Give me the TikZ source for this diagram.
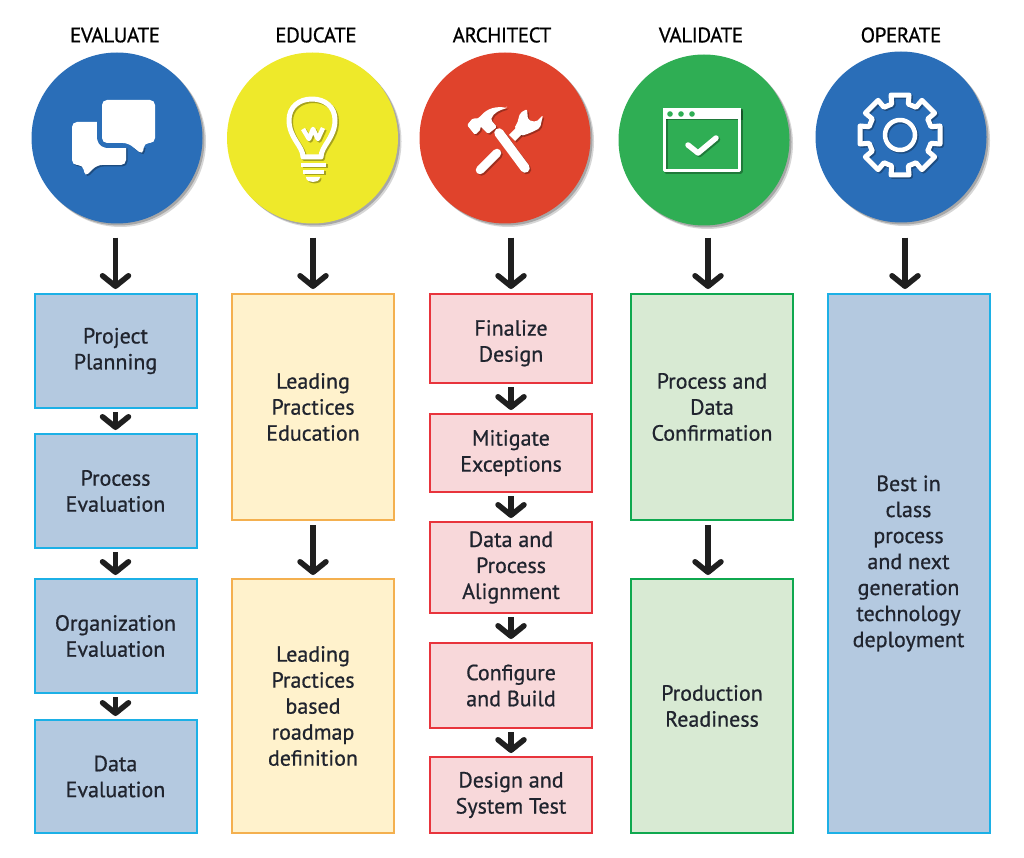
\documentclass[tikz,border=0pt]{standalone}
\usepackage{fontspec}
\setmainfont[FakeBold=0.7]{PT Sans}
\usetikzlibrary{arrows.meta,shadows}

\definecolor{circblue}{HTML}{2A6EB8}
\definecolor{circyellow}{HTML}{EEE92A}
\definecolor{circred}{HTML}{E0432C}
\definecolor{circgreen}{HTML}{2FAE54}
\definecolor{inktext}{HTML}{20242E}
\definecolor{bluefill}{HTML}{B4C9E0}
\definecolor{blueline}{HTML}{1CB0E6}
\definecolor{yellowfill}{HTML}{FFF2CC}
\definecolor{yellowline}{HTML}{F4B04F}
\definecolor{redfill}{HTML}{F8D8DA}
\definecolor{redline}{HTML}{E8343C}
\definecolor{greenfill}{HTML}{D8EAD3}
\definecolor{greenline}{HTML}{0FA84F}

\tikzset{
    phase/.style={font=\fontsize{21}{24}\selectfont\addfontfeatures{LetterSpace=-2}, text=black, inner sep=0pt},
    disc/.style={circle, minimum size=171pt, inner sep=0pt, fill=#1,
        drop shadow={shadow xshift=2pt, shadow yshift=-2pt, opacity=.22, fill=black},
        drop shadow={shadow xshift=3.5pt, shadow yshift=-3.5pt, opacity=.16, fill=black}},
    stepbase/.style={rectangle, line width=2pt, minimum width=162pt, minimum height=#1,
        align=center, inner sep=0pt, text=inktext, font=\fontsize{22}{26}\selectfont},
    bluebox/.style={stepbase=#1, draw=blueline, fill=bluefill},
    yellowbox/.style={stepbase=#1, draw=yellowline, fill=yellowfill},
    redbox/.style={stepbase=#1, draw=redline, fill=redfill},
    greenbox/.style={stepbase=#1, draw=greenline, fill=greenfill},
    flow/.style={-{Straight Barb[length=10.5pt,width=26pt,round]}, line width=5.5pt, color=black!88},
}

\begin{document}
\begin{tikzpicture}[x=1pt, y=-1pt]

    \useasboundingbox (0,0) rectangle (1024,858);

    % phase titles
    \node[phase] (tev) at (115,35) {EVALUATE};
    \node[phase] (ted) at (316,35) {EDUCATE};
    \node[phase] (tar) at (502,35) {ARCHITECT};
    \node[phase] (tva) at (701,35) {VALIDATE};
    \node[phase] (top) at (901,35) {OPERATE};

    % circles
    \node[disc=circblue] (cev) at (117,138) {};
    \node[disc=circyellow] (ced) at (312.5,138) {};
    \node[disc=circred] (car) at (505,138) {};
    \node[disc=circgreen] (cva) at (704,140) {};
    \node[disc=circblue] (cop) at (901,137) {};

    % icons, shadow pass first and white pass second
    \foreach \sh/\ic/\op in {1.5/black/.3, 0/white/1} {
    \begin{scope}[shift={(\sh,\sh)}, opacity=\op, color=\ic, line join=round]
        % chat bubbles
        \fill[rounded corners=5pt] (72,122) -- (126,122) -- (126,165) -- (97,165) -- (85,177) -- (83,165) -- (72,165) -- cycle;
        \draw[circblue, line width=10pt, rounded corners=5pt] (102,100) rectangle (155,143);
        \fill[rounded corners=5pt] (102,100) -- (155,100) -- (155,143) -- (144,143) -- (143,155) -- (128,143) -- (102,143) -- cycle;

        % bulb
        \draw[line width=5pt] (303,157) .. controls (303,146) and (289,138) .. (289,120) .. controls (289,107) and (299,99) .. (312,99) .. controls (325,99) and (335,107) .. (335,120) .. controls (335,138) and (321,146) .. (321,157) -- cycle;
        \draw[line width=4.5pt] (303,129) -- (309,139) -- (313,129) -- (318,139) -- (323,128);
        \draw[line width=4pt] (301,165) -- (326,165);
        \draw[line width=4pt] (303,172) -- (324,172);
        \fill (306,177) -- (320,177) .. controls (320,181) and (316,182) .. (313,182) .. controls (310,182) and (306,181) .. (306,177) -- cycle;

        % wrench
        \draw[line width=8.5pt, line cap=round] (480,170) -- (497,153);
        \draw[line width=8.5pt] (512,138) -- (522,128);
        \fill[rounded corners=2pt] (527,109) -- (520,113) -- (517,124) -- (514,128) -- (521,136) -- (530,133) -- (540,128) -- (543,115) -- (536,122) -- (528,120) -- cycle;

        % hammer
        \draw[line width=9.5pt, line cap=round] (499,133) -- (525,168);
        \fill[rounded corners=1.5pt] (507,108) .. controls (497,106) and (487,108) .. (480,117) -- (476,119) -- (473,118) -- (467,125) -- (475,135) -- (481,129) -- (480,126) -- (488,134) -- (497,127) -- (491,120) .. controls (493,113) and (500,110) .. (507,108) -- cycle;

        % browser window
        \draw[line width=3.5pt] (664.5,109.5) rectangle (739.5,170.5);
        \fill (663,108) rectangle (741,119);
        \draw[line width=5.5pt, line cap=round] (688,145) -- (698,153) -- (716,138);

        % gear
        \begin{scope}[shift={(900,135)}]
            \draw[line width=5pt] (-15:32) \foreach \a in {0,45,...,315} {-- ({\a-15}:32) -- ({\a-12.7}:41) -- ({\a+12.7}:41) -- ({\a+15}:32)} -- cycle;
            \draw[line width=4.5pt] (0,0) circle[radius=15];
        \end{scope}
    \end{scope}
    }
    % window dots
    \fill[circgreen] (670,114) circle[radius=2.8];
    \fill[circgreen] (681,114) circle[radius=2.8];
    \fill[circgreen] (692,114) circle[radius=2.8];

    % evaluate boxes
    \node[bluebox=114pt] (ev1) at (115.5,351) {Project\\Planning};
    \node[bluebox=114pt] (ev2) at (115.5,491) {Process\\Evaluation};
    \node[bluebox=114pt] (ev3) at (115.5,636) {Organization\\Evaluation};
    \node[bluebox=113pt] (ev4) at (115.5,776.5) {Data\\Evaluation};

    % educate boxes
    \node[yellowbox=226pt] (ed1) at (313,407) {Leading\\Practices\\Education};
    \node[yellowbox=254pt] (ed2) at (313,706) {Leading\\Practices\\based\\roadmap\\definition};

    % architect boxes
    \node[redbox=89pt] (ar1) at (511,338.5) {\rule{0pt}{25pt}Finalize\\Design};
    \node[redbox=78pt] (ar2) at (511,453) {Mitigate\\Exceptions};
    \node[redbox=91pt] (ar3) at (511,567.5) {Data and\\Process\\Alignment};
    \node[redbox=85pt] (ar4) at (511,685.5) {Configure\\and Build};
    \node[redbox=76pt] (ar5) at (511,795) {Design and\\System Test};

    % validate boxes
    \node[greenbox=226pt] (va1) at (712,407) {Process and\\Data\\Confirmation};
    \node[greenbox=254pt] (va2) at (712,706) {Production\\Readiness};

    % operate box
    \node[bluebox=539pt] (op1) at (908.5,563.5) {Best in\\class\\process\\and next\\generation\\technology\\deployment};

    % arrows under the circles
    \draw[flow, shorten <=14pt, shorten >=4pt] (cev.south -| ev1.north) -- (ev1.north);
    \draw[flow, shorten <=14pt, shorten >=4pt] (ced.south -| ed1.north) -- (ed1.north);
    \draw[flow, shorten <=14pt, shorten >=4pt] (car.south -| ar1.north) -- (ar1.north);
    \draw[flow, shorten <=12pt, shorten >=4pt] ([xshift=4pt]cva.south) -- ([xshift=-4pt]va1.north);
    \draw[flow, shorten <=15pt, shorten >=4pt] ([xshift=4pt]cop.south) -- ([xshift=-3.5pt]op1.north);

    % arrows between the boxes
    \draw[flow, shorten <=3pt, shorten >=3pt] (ev1) -- (ev2);
    \draw[flow, shorten <=3pt, shorten >=3pt] (ev2) -- (ev3);
    \draw[flow, shorten <=3pt, shorten >=3pt] (ev3) -- (ev4);
    \draw[flow, shorten <=4pt, shorten >=3pt] (ed1) -- (ed2);
    \draw[flow, shorten <=3pt, shorten >=3pt] (ar1) -- (ar2);
    \draw[flow, shorten <=3pt, shorten >=3pt] (ar2) -- (ar3);
    \draw[flow, shorten <=3pt, shorten >=3pt] (ar3) -- (ar4);
    \draw[flow, shorten <=3pt, shorten >=3pt] (ar4) -- (ar5);
    \draw[flow, shorten <=4pt, shorten >=3pt] ([xshift=-4pt]va1.south) -- ([xshift=-4pt]va2.north);

\end{tikzpicture}
\end{document}
